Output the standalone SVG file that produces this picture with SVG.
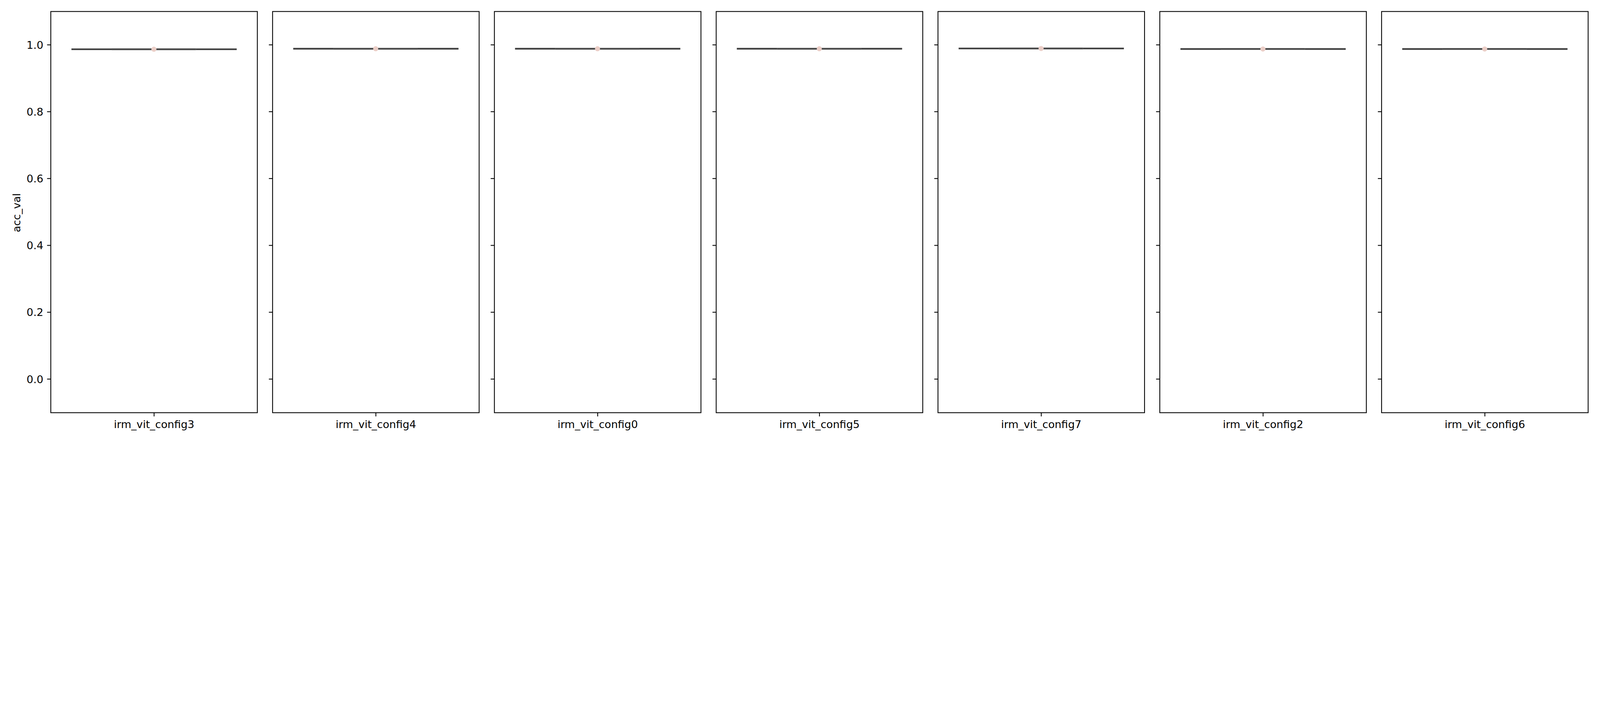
<svg xmlns="http://www.w3.org/2000/svg" width="6300" height="1800" viewBox="0 0 6300 1800" style="max-width:100vw;height:auto">
<style>
.bg{fill:#ffffff}
.frame{fill:none;stroke:#000;stroke-width:3.33;stroke-linejoin:miter}
.tick{stroke:#000;stroke-width:3.33}
.txt{font-family:"DejaVu Sans","Liberation Sans",sans-serif;font-size:41.67px;fill:#000}
.ylab{text-anchor:end}
.xlab{text-anchor:middle}
.halo{stroke:#cfcfcf;stroke-width:8}
.body{stroke:#3d3d3d;stroke-width:6}
.boxedge{stroke:#8c8c8c;stroke-width:7.4}
.boxcore{stroke:#404040;stroke-width:5}
.med{fill:#ebcec7}
</style>
<defs>
<g id="violin">
<line class="halo" x1="81.3" y1="0" x2="732" y2="0"/>
<line class="boxedge" x1="240" y1="0" x2="571" y2="0"/>
<line class="body" x1="81.3" y1="0" x2="240" y2="0"/>
<line class="body" x1="571" y1="0" x2="732" y2="0"/>
<line class="boxcore" x1="240" y1="0" x2="571" y2="0"/>
<circle class="med" cx="406" cy="0" r="10"/>
</g>
<g id="yticks">
<line class="tick" x1="-14.6" y1="176.7" x2="0" y2="176.7"/>
<line class="tick" x1="-14.6" y1="440" x2="0" y2="440"/>
<line class="tick" x1="-14.6" y1="703.3" x2="0" y2="703.3"/>
<line class="tick" x1="-14.6" y1="966.7" x2="0" y2="966.7"/>
<line class="tick" x1="-14.6" y1="1230" x2="0" y2="1230"/>
<line class="tick" x1="-14.6" y1="1493.3" x2="0" y2="1493.3"/>
</g>
</defs>
<rect class="bg" x="0" y="0" width="6300" height="1800"/>

<g id="yaxis-labels">
<text class="txt ylab" x="170.8" y="191.9">1.0</text>
<text class="txt ylab" x="170.8" y="455.2">0.8</text>
<text class="txt ylab" x="170.8" y="718.5">0.6</text>
<text class="txt ylab" x="170.8" y="981.9">0.4</text>
<text class="txt ylab" x="170.8" y="1245.2">0.2</text>
<text class="txt ylab" x="170.8" y="1508.5">0.0</text>
<text class="txt xlab" x="80.5" y="838" transform="rotate(-90 80.5 838)">acc_val</text>
</g>

<g id="panel-config3" transform="translate(200 0)">
<rect class="frame" x="0" y="45.3" width="813.3" height="1580.4"/>
<use href="#yticks"/>
<use href="#violin" y="194"/>
<line class="tick" x1="406.7" y1="1625.7" x2="406.7" y2="1640.3"/>
<text class="txt xlab" x="406.7" y="1686.6">irm_vit_config3</text>
</g>

<g id="panel-config4" transform="translate(1073.3 0)">
<rect class="frame" x="0" y="45.3" width="813.3" height="1580.4"/>
<use href="#yticks"/>
<use href="#violin" y="192"/>
<line class="tick" x1="406.7" y1="1625.7" x2="406.7" y2="1640.3"/>
<text class="txt xlab" x="406.7" y="1686.6">irm_vit_config4</text>
</g>

<g id="panel-config0" transform="translate(1946.7 0)">
<rect class="frame" x="0" y="45.3" width="813.3" height="1580.4"/>
<use href="#yticks"/>
<use href="#violin" y="192"/>
<line class="tick" x1="406.7" y1="1625.7" x2="406.7" y2="1640.3"/>
<text class="txt xlab" x="406.7" y="1686.6">irm_vit_config0</text>
</g>

<g id="panel-config5" transform="translate(2820 0)">
<rect class="frame" x="0" y="45.3" width="813.3" height="1580.4"/>
<use href="#yticks"/>
<use href="#violin" y="192"/>
<line class="tick" x1="406.7" y1="1625.7" x2="406.7" y2="1640.3"/>
<text class="txt xlab" x="406.7" y="1686.6">irm_vit_config5</text>
</g>

<g id="panel-config7" transform="translate(3693.3 0)">
<rect class="frame" x="0" y="45.3" width="813.3" height="1580.4"/>
<use href="#yticks"/>
<use href="#violin" y="191"/>
<line class="tick" x1="406.7" y1="1625.7" x2="406.7" y2="1640.3"/>
<text class="txt xlab" x="406.7" y="1686.6">irm_vit_config7</text>
</g>

<g id="panel-config2" transform="translate(4566.7 0)">
<rect class="frame" x="0" y="45.3" width="813.3" height="1580.4"/>
<use href="#yticks"/>
<use href="#violin" y="193"/>
<line class="tick" x1="406.7" y1="1625.7" x2="406.7" y2="1640.3"/>
<text class="txt xlab" x="406.7" y="1686.6">irm_vit_config2</text>
</g>

<g id="panel-config6" transform="translate(5440 0)">
<rect class="frame" x="0" y="45.3" width="813.3" height="1580.4"/>
<use href="#yticks"/>
<use href="#violin" y="193"/>
<line class="tick" x1="406.7" y1="1625.7" x2="406.7" y2="1640.3"/>
<text class="txt xlab" x="406.7" y="1686.6">irm_vit_config6</text>
</g>

<g id="connectors"></g>
</svg>
